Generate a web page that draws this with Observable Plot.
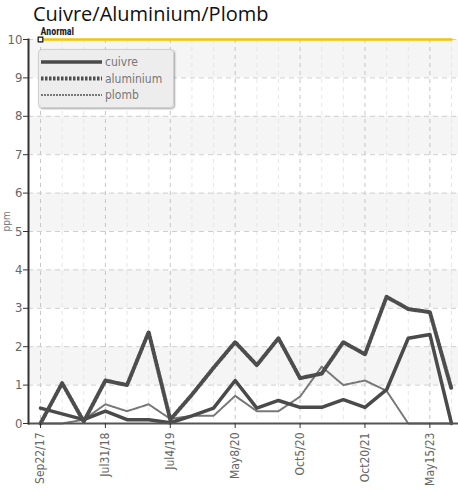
<!DOCTYPE html>
<html>
<head>
<meta charset="utf-8">
<script src="https://cdn.jsdelivr.net/npm/d3@7"></script>
<script src="https://cdn.jsdelivr.net/npm/@observablehq/plot@0.6"></script>
<style>
  body { margin: 0; background: #fff; }
  #wrap { position: relative; width: 458px; height: 491px; overflow: hidden; }
  #title { height: 26px; font-family: "Open Sans", sans-serif; font-size: 20px; line-height: 26px; color: #111; padding-left: 33px; white-space: nowrap; }
  #title span { position: relative; top: 1px; }
  #legend { position: absolute; left: 38px; top: 49px; width: 134px; height: 57px; background: rgba(236,236,236,0.95); border: 1px solid #cfcfcf; border-radius: 4px; box-shadow: 1px 1px 2px rgba(0,0,0,0.35); }
  #legend svg { position: absolute; left: 0; top: 0; }
</style>
</head>
<body>
<div id="wrap">
  <div id="title"><span>Cuivre/Aluminium/Plomb</span></div>
  <div id="chart"></div>
  <div id="legend"></div>
</div>
<script>
// ---- data ----
const samples = [0,1,2,3,4,5,6,7,8,9,10,11,12,13,14,15,16,17,18,19];
const labeledSamples = [0,3,6,9,12,15,18];
const tickLabels = ["Sep22/17","Jul31/18","Jul4/19","May8/20","Oct5/20","Oct20/21","May15/23"];
const cuivre    = [0.4,0.25,0.1,0.32,0.1,0.1,0.02,0.2,0.4,1.12,0.4,0.6,0.42,0.42,0.62,0.42,0.88,2.22,2.32,0];
const aluminium = [0,1.05,0.05,1.12,1.0,2.38,0.1,0.75,1.45,2.12,1.52,2.22,1.18,1.3,2.12,1.8,3.3,2.98,2.9,0.9];
const plomb     = [0,0,0.1,0.5,0.32,0.5,0.12,0.2,0.2,0.72,0.32,0.32,0.7,1.48,1.0,1.12,0.85,0,0,0];
const seriesNames = ["cuivre","aluminium","plomb"];
const anormalValue = 10;
const anormalLabel = "Anormal";
const yTicks = [0,1,2,3,4,5,6,7,8,9,10];
const shadedBands = [[1,2],[3,4],[5,6],[7,8],[9,10]];
const yLabel = "ppm";

const seriesValues = {cuivre, aluminium, plomb};
const rows = name => samples.map(i => ({i, v: seriesValues[name][i]}));
const styles = {
  cuivre:    {stroke: "#4a4a4a", strokeWidth: 3.5},
  aluminium: {stroke: "#4d4d4d", strokeWidth: 4, strokeDasharray: "2.5,1.5"},
  plomb:     {stroke: "#777", strokeWidth: 2, strokeDasharray: "2,1"}
};
const font = '"DejaVu Sans Condensed", "DejaVu Sans", sans-serif';

const chart = Plot.plot({
  width: 458, height: 465,
  marginLeft: 28, marginRight: 0, marginTop: 13, marginBottom: 68,
  x: {type: "point", domain: samples, range: [40, 451], padding: 0, round: false},
  y: {domain: [0, 10]},
  style: {fontFamily: font, fontStretch: "condensed", fontSize: "12px", color: "#666", background: "transparent", overflow: "visible"},
  marks: [
    Plot.rect(shadedBands, {y1: d => d[0], y2: d => d[1], fill: "#f5f5f5"}),
    Plot.ruleX(samples, {x: d => d, stroke: d => labeledSamples.includes(d) ? "#c6c6c6" : "#e6e6e6", strokeDasharray: "4,4"}),
    Plot.ruleY(yTicks, {stroke: "#cfcfcf", strokeDasharray: "5,4"}),
    Plot.line(samples, {x: d => d, y: () => anormalValue, stroke: "#f6c300", strokeWidth: 2.5, strokeDasharray: "3,1"}),
    Plot.line(rows("plomb"), {x: "i", y: "v", ...styles.plomb}),
    Plot.line(rows("cuivre"), {x: "i", y: "v", ...styles.cuivre}),
    Plot.line(rows("aluminium"), {x: "i", y: "v", ...styles.aluminium}),
    Plot.ruleY([0], {stroke: "#555", strokeWidth: 2}),
    Plot.frame({anchor: "left", stroke: "#333", strokeWidth: 2}),
    Plot.axisY({ticks: yTicks, tickSize: 5, tickPadding: 1, label: null, stroke: "#333", fill: "#666", fontSize: 13}),
    Plot.axisX({ticks: labeledSamples, tickFormat: d => tickLabels[labeledSamples.indexOf(d)], tickRotate: -90, tickSize: 5, tickPadding: 4, label: null, stroke: "#333", fill: "#666"}),
    Plot.dot([anormalValue], {x: () => samples[0], y: d => d, symbol: "square", r: 2.6, stroke: "#111", fill: "#fff", strokeWidth: 1.2}),
    Plot.text([anormalLabel], {x: () => samples[0], y: () => anormalValue, text: d => d, dy: -8, textAnchor: "start", fontWeight: "bold", fontSize: 10, fill: "#222", fontFamily: "Roboto, sans-serif"}),
    Plot.text([yLabel], {frameAnchor: "left", rotate: -90, dx: -22, text: d => d, fontSize: 10, fill: "#777"})
  ]
});
document.getElementById("chart").appendChild(chart);

// ---- legend ----
const lg = d3.select("#legend").append("svg").attr("width", 134).attr("height", 57);
seriesNames.forEach((name, k) => {
  const y = 12 + k * 16.5;
  const s = styles[name];
  lg.append("line").attr("x1", 2).attr("x2", 63).attr("y1", y).attr("y2", y)
    .attr("stroke", s.stroke).attr("stroke-width", s.strokeWidth)
    .attr("stroke-dasharray", s.strokeDasharray || null);
  lg.append("text").attr("x", 66).attr("y", y + 4).text(name)
    .attr("font-family", font).attr("font-stretch", "condensed").attr("font-size", 12).attr("fill", "#777");
});
</script>
</body>
</html>
